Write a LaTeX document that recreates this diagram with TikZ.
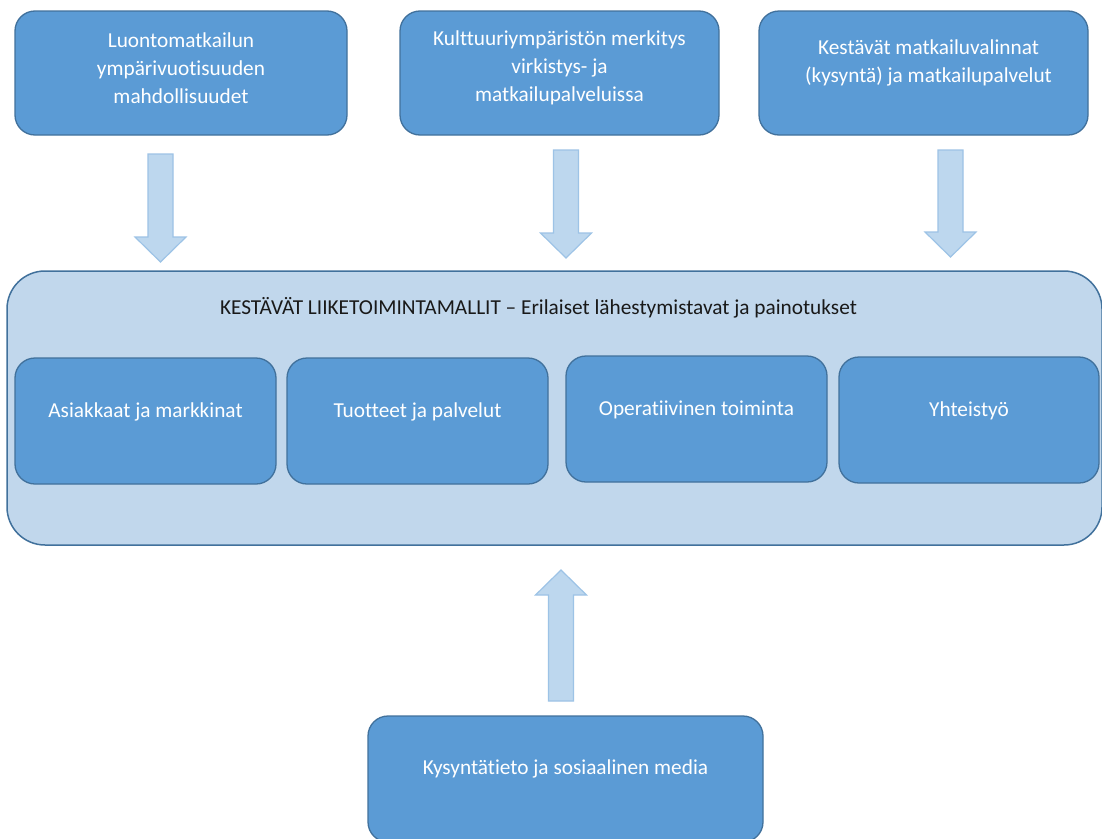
\documentclass[tikz,border=0pt]{standalone}
\usepackage{fontspec}
\setmainfont{Carlito}[Ligatures={NoCommon,NoContextual}]
\usetikzlibrary{calc}

\definecolor{boxblue}{RGB}{91,155,213}
\definecolor{boxline}{RGB}{65,113,156}
\definecolor{panelblue}{RGB}{193,215,236}
\definecolor{arrowfill}{RGB}{189,215,238}
\definecolor{arrowline}{RGB}{157,195,230}

\tikzset{
  bluebox/.style={draw=boxline, fill=boxblue, line width=1.3pt, rounded corners=20pt, inner sep=0pt},
  boxtext/.style={text=white, align=center, font=\fontsize{21.3}{28}\selectfont},
  blockarrow/.style={draw=arrowline, fill=arrowfill, line width=1.2pt},
}

\newcommand{\blockarr}[2]{%
  \coordinate (hb) at ($(#2)!25pt!(#1)$);
  \draw[blockarrow] ($(#1)!12.5pt!90:(#2)$) -- ($(hb)!12.5pt!90:(#2)$) -- ($(hb)!25.5pt!90:(#2)$) -- (#2)
    -- ($(hb)!25.5pt!-90:(#2)$) -- ($(hb)!12.5pt!-90:(#2)$) -- ($(#1)!12.5pt!-90:(#2)$) -- cycle;}

\begin{document}
\begin{tikzpicture}[x=1pt,y=-1pt]
\clip (0,0) rectangle (1102,838);
\fill[white] (0,0) rectangle (1102,838);

\node[bluebox, minimum width=332, minimum height=124] (luonto) at (181,73) {};
\node[boxtext] (luonto-t) at ([yshift=5pt]luonto.center) {Luontomatkailun\\ympärivuotisuuden\\mahdollisuudet};
\node[bluebox, minimum width=319, minimum height=124] (kulttuuri) at (559.5,73) {};
\node[boxtext] (kulttuuri-t) at ([yshift=5pt]kulttuuri.center) {Kulttuuriympäristön merkitys\\virkistys- ja\\matkailupalveluissa};
\node[bluebox, minimum width=329, minimum height=124] (valinnat) at (923.5,73) {};
\node[boxtext] (valinnat-t) at ([yshift=10pt,xshift=5pt]valinnat.center) {Kestävät matkailuvalinnat\\(kysyntä) ja matkailupalvelut};

\node[draw=boxline, fill=panelblue, line width=1.5pt, rounded corners=38pt, minimum width=1095, minimum height=274] (malli) at (554.5,408) {};
\node[font=\fontsize{21.3}{28}\selectfont, text=black!90] (otsikko) at (538.5,308) {KESTÄVÄT LIIKETOIMINTAMALLIT – Erilaiset lähestymistavat ja painotukset};

\node[bluebox, minimum width=261, minimum height=126] (asiakkaat) at (145.5,421) {};
\node[boxtext] (asiakkaat-t) at ([yshift=9pt]asiakkaat.center) {Asiakkaat ja markkinat};
\node[bluebox, minimum width=261, minimum height=126] (tuotteet) at (417.5,421) {};
\node[boxtext] (tuotteet-t) at ([yshift=9pt]tuotteet.center) {Tuotteet ja palvelut};
\node[bluebox, minimum width=261, minimum height=126] (operatiivinen) at (696.5,419) {};
\node[boxtext] (operatiivinen-t) at ([yshift=9pt]operatiivinen.center) {Operatiivinen toiminta};
\node[bluebox, minimum width=260, minimum height=126] (yhteistyo) at (969,420) {};
\node[boxtext] (yhteistyo-t) at ([yshift=9pt]yhteistyo.center) {Yhteistyö};

\node[bluebox, minimum width=395, minimum height=126] (kysynta) at (565.5,779) {};
\node[boxtext] (kysynta-t) at ([yshift=10pt]kysynta.center) {Kysyntätieto ja sosiaalinen media};

\coordinate (a1) at (160.5,154);
\coordinate (b1) at (160.5,262);
\coordinate (a2) at (566,150);
\coordinate (b2) at (566,258);
\coordinate (a3) at (950.5,150);
\coordinate (b3) at (950.5,257);
\coordinate (a4) at (561,701);
\coordinate (b4) at (561,570);
\blockarr{a1}{b1}
\blockarr{a2}{b2}
\blockarr{a3}{b3}
\blockarr{a4}{b4}
\end{tikzpicture}
\end{document}
